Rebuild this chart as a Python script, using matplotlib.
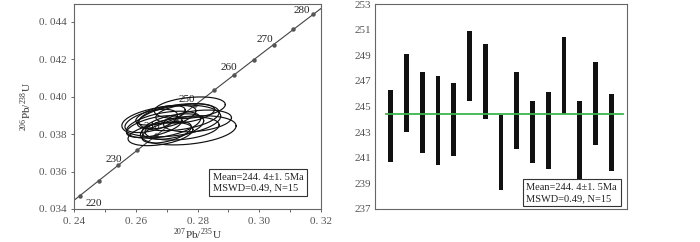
import numpy as np
import matplotlib
matplotlib.use("Agg")
import matplotlib.pyplot as plt
from matplotlib.ticker import FuncFormatter, MultipleLocator

# ---------------- data ----------------
# Concordia decay constants (1/yr)
LAMBDA_238 = 1.55125e-10
LAMBDA_235 = 9.8485e-10
concordia_marks = [220, 225, 230, 235, 240, 245, 250, 255, 260, 265, 270, 275, 280]
concordia_labels = [220, 230, 240, 250, 260, 270, 280]

# error ellipses: centre 207Pb/235U, centre 206Pb/238U, semi-axes, correlation
ell_x = [0.2715, 0.2770, 0.2775, 0.2690, 0.2680, 0.2740, 0.2700, 0.2660,
         0.2720, 0.2800, 0.2750, 0.2680, 0.2700, 0.2760, 0.2650]
ell_y = [0.0387, 0.0382, 0.0394, 0.0385, 0.0380, 0.0389, 0.0389, 0.0384,
         0.0384, 0.0387, 0.0383, 0.0390, 0.0381, 0.0391, 0.0387]
ell_sx = [0.0160, 0.0155, 0.0115, 0.0120, 0.0105, 0.0130, 0.0095, 0.0090,
          0.0100, 0.0110, 0.0120, 0.0080, 0.0080, 0.0095, 0.0085]
ell_sy = [0.00085, 0.00078, 0.00058, 0.00072, 0.00062, 0.00072, 0.00062, 0.00058,
          0.00068, 0.00058, 0.00062, 0.00052, 0.00058, 0.00052, 0.00062]
ell_rho = [0.3, 0.3, 0.3, 0.45, 0.4, 0.35, 0.55, 0.55, 0.45, 0.3, 0.3, 0.55, 0.5, 0.4, 0.5]

# weighted mean plot: 206Pb/238U age error bars (Ma)
spots = list(range(1, 16))
age_lo = [240.7, 243.0, 241.4, 240.4, 241.1, 245.4, 244.0, 238.5, 241.7, 240.6,
          240.1, 244.4, 239.0, 242.0, 240.0]
age_hi = [246.3, 249.1, 247.7, 247.4, 246.8, 250.9, 249.9, 244.3, 247.7, 245.4,
          246.1, 250.4, 245.4, 248.5, 246.0]
mean_age = 244.4
stats_text = "Mean=244. 4\u00b11. 5Ma\nMSWD=0.49, N=15"

# ---------------- style ----------------
plt.rcParams['font.family'] = ['Liberation Serif', 'DejaVu Serif']
plt.rcParams['mathtext.fontset'] = 'custom'
plt.rcParams['mathtext.rm'] = 'Liberation Serif'
TICK_COLOR = '#555555'
SPINE_COLOR = '#666666'

fig = plt.figure(figsize=(7.0, 2.42), dpi=100)
ax1 = fig.add_axes([74/700, 33/242, 247/700, 205/242])
ax2 = fig.add_axes([375/700, 33/242, 252/700, 205/242])

def spaced(v, nd):
    return f"{v:.{nd}f}".replace('.', '. ')

# ---------------- concordia ----------------
t = np.linspace(150, 350, 400) * 1e6
cx = np.exp(LAMBDA_235 * t) - 1
cy = np.exp(LAMBDA_238 * t) - 1
ax1.plot(cx, cy, color='#444444', lw=0.8, zorder=2)

tm = np.array(concordia_marks) * 1e6
ax1.plot(np.exp(LAMBDA_235 * tm) - 1, np.exp(LAMBDA_238 * tm) - 1, 'o',
         color='#555555', ms=2.2, zorder=3)

offsets = {220: (10, -6), 230: (-3, 4), 240: (-3, 6), 250: (-6, 4),
           260: (-4, 5), 270: (-6, 4), 280: (-8, 3)}
for a in concordia_labels:
    px = np.exp(LAMBDA_235 * a * 1e6) - 1
    py = np.exp(LAMBDA_238 * a * 1e6) - 1
    ax1.annotate(str(a), (px, py), xytext=offsets[a], textcoords='offset points',
                 ha='center', va='center', fontsize=8, color='#222222', zorder=1)

th = np.linspace(0, 2 * np.pi, 200)
for x0, y0, sx, sy, r in zip(ell_x, ell_y, ell_sx, ell_sy, ell_rho):
    ex = x0 + sx * np.cos(th)
    ey = y0 + sy * (r * np.cos(th) + np.sqrt(1 - r * r) * np.sin(th))
    ax1.plot(ex, ey, color='#111111', lw=0.85, zorder=4)

ax1.set_xlim(0.24, 0.32)
ax1.set_ylim(0.034, 0.04494)
ax1.xaxis.set_major_locator(MultipleLocator(0.02))
ax1.xaxis.set_minor_locator(MultipleLocator(0.01))
ax1.yaxis.set_major_locator(MultipleLocator(0.002))
ax1.xaxis.set_major_formatter(FuncFormatter(lambda v, p: spaced(v, 2)))
ax1.yaxis.set_major_formatter(FuncFormatter(lambda v, p: spaced(v, 3)))
ax1.tick_params(which='both', direction='out', colors=SPINE_COLOR, labelcolor=TICK_COLOR,
                labelsize=8, length=2.5, width=0.7, pad=3)
ax1.tick_params(which='minor', length=2)
ax1.set_xlabel(r'$^{207}$Pb/$^{235}$U', fontsize=8, color='#333333', labelpad=1)
ax1.set_ylabel(r'$^{206}$Pb/$^{238}$U', fontsize=8, color='#333333', labelpad=3)
for s in ax1.spines.values():
    s.set_color(SPINE_COLOR)
    s.set_linewidth(0.8)
ax1.text(0.93, 0.08, stats_text, transform=ax1.transAxes, ha='right', va='bottom',
         multialignment='left', fontsize=7.5, color='#222222', linespacing=1.25, zorder=6,
         bbox=dict(boxstyle='square,pad=0.35', fc='white', ec='#333333', lw=0.8))

# ---------------- weighted mean bars ----------------
lo = np.array(age_lo)
hi = np.array(age_hi)
ax2.bar(spots, hi - lo, bottom=lo, width=0.3, color='#111111', zorder=2)
ax2.axhline(mean_age, xmin=0.045, xmax=0.985, color='#3cb44b', lw=1.3, zorder=3)
ax2.set_xlim(0, 16)
ax2.set_ylim(237, 253)
ax2.set_yticks(np.arange(237, 254, 2))
ax2.set_xticks([])
ax2.tick_params(axis='y', length=0, pad=3, labelsize=8, labelcolor=TICK_COLOR)
for s in ax2.spines.values():
    s.set_color(SPINE_COLOR)
    s.set_linewidth(0.8)
ax2.text(0.96, 0.03, stats_text, transform=ax2.transAxes, ha='right', va='bottom',
         multialignment='left', fontsize=7.5, color='#222222', linespacing=1.25, zorder=6,
         bbox=dict(boxstyle='square,pad=0.35', fc='white', ec='#333333', lw=0.8))

fig.savefig('out.png', dpi=100)
